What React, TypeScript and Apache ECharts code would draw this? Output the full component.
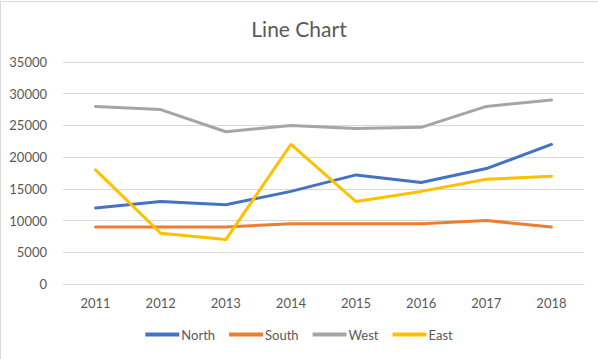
import React, { useEffect, useRef } from "react";
import * as echarts from "echarts";

const years = ["2011", "2012", "2013", "2014", "2015", "2016", "2017", "2018"];
const north = [12000, 13000, 12500, 14600, 17200, 16000, 18200, 22000];
const south = [9000, 9000, 9000, 9500, 9500, 9500, 10000, 9000];
const west = [28000, 27500, 24000, 25000, 24500, 24700, 28000, 29000];
const east = [18000, 8000, 7000, 22000, 13000, 14600, 16500, 17000];

const FONT = "Lato, 'Liberation Sans', sans-serif";

export default function App() {
  const ref = useRef<HTMLDivElement>(null);
  useEffect(() => {
    document.body.style.margin = "0";
    const chart = echarts.init(ref.current!, undefined, { renderer: "svg" });
    const mk = (name: string, data: number[], color: string) => ({
      name,
      type: "line",
      data,
      symbol: "none",
      lineStyle: { width: 3, color, cap: "round", join: "round" },
      itemStyle: { color },
    });
    chart.setOption({
      animation: false,
      backgroundColor: "#ffffff",
      title: {
        text: "Line Chart",
        left: "center",
        top: 13,
        textStyle: { fontFamily: FONT, fontSize: 21, fontWeight: "normal", color: "#595959" },
      },
      grid: { left: 63, right: 14, top: 62, bottom: 75 },
      legend: {
        bottom: 13,
        left: "center",
        itemWidth: 34,
        itemHeight: 4,
        itemGap: 14,
        icon: "rect",
        textStyle: { fontFamily: FONT, fontSize: 13, color: "#595959", padding: [0, 0, 0, -3] },
        data: ["North", "South", "West", "East"],
      },
      xAxis: {
        type: "category",
        data: years,
        boundaryGap: true,
        axisLine: { lineStyle: { color: "#D9D9D9" } },
        axisTick: { show: false },
        axisLabel: { fontFamily: FONT, fontSize: 13, color: "#595959", margin: 12 },
      },
      yAxis: {
        type: "value",
        min: 0,
        max: 35000,
        interval: 5000,
        axisLine: { show: false },
        axisTick: { show: false },
        splitLine: { lineStyle: { color: "#D9D9D9" } },
        axisLabel: {
          fontFamily: FONT,
          fontSize: 13,
          color: "#595959",
          margin: 16,
          formatter: (v: number) => String(v),
        },
      },
      series: [
        mk("North", north, "#4472C4"),
        mk("South", south, "#ED7D31"),
        mk("West", west, "#A5A5A5"),
        mk("East", east, "#FFC000"),
      ],
    });
    return () => chart.dispose();
  }, []);
  return (
    <div style={{ position: "relative", width: 598, height: 359, overflow: "hidden", background: "#fff" }}>
      <div
        ref={ref}
        style={{
          position: "absolute",
          left: 0,
          top: 0,
          width: 598,
          height: 359,
        }}
      />
      <div style={{ position: "absolute", left: 0, top: 1, width: 598, height: 1, background: "#D9D9D9" }} />
      <div style={{ position: "absolute", left: 0, top: 1, width: 1, height: 358, background: "#D9D9D9" }} />
    </div>
  );
}
